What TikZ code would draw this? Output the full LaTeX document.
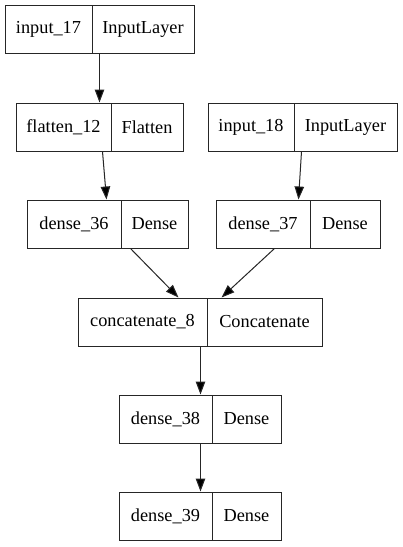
\documentclass[tikz,border=0pt]{standalone}
\usepackage{fontspec}
\setmainfont{Liberation Serif}
\usetikzlibrary{arrows.meta,calc}
\tikzset{
  cell/.style={draw=black!85, line width=1pt, inner sep=0pt, minimum height=48pt,
    font=\fontsize{18.3}{20}\selectfont, text=black},
  conn/.style={draw=black!85, line width=1pt,
    -{Triangle[length=13pt,width=9.5pt,fill=black]}}
}
\begin{document}
\begin{tikzpicture}[x=1pt,y=-1pt]
\useasboundingbox[fill=white] (0,0) rectangle (403,547);
% input_17
\node[cell, minimum width=87pt] (a1) at (48.5,29) {input\_17};
\node[cell, minimum width=102pt] (a2) at (143,29) {InputLayer};
% flatten_12
\node[cell, minimum width=95pt] (f1) at (63.5,127) {flatten\_12};
\node[cell, minimum width=72pt] (f2) at (147,127) {Flatten};
% input_18
\node[cell, minimum width=86pt] (i1) at (251,127) {input\_18};
\node[cell, minimum width=103pt] (i2) at (345.5,127) {InputLayer};
% dense_36
\node[cell, minimum width=94pt] (d1) at (74,224) {dense\_36};
\node[cell, minimum width=67pt] (d2) at (154.5,224) {Dense};
% dense_37
\node[cell, minimum width=94pt] (e1) at (263,224) {dense\_37};
\node[cell, minimum width=70pt] (e2) at (345,224) {Dense};
% concatenate_8
\node[cell, minimum width=129pt] (c1) at (142.5,322) {concatenate\_8};
\node[cell, minimum width=115pt] (c2) at (264.5,322) {Concatenate};
% dense_38
\node[cell, minimum width=93pt] (g1) at (165.5,419) {dense\_38};
\node[cell, minimum width=69pt] (g2) at (246.5,419) {Dense};
% dense_39
\node[cell, minimum width=93pt] (h1) at (165.5,516) {dense\_39};
\node[cell, minimum width=69pt] (h2) at (246.5,516) {Dense};
% connectors
\draw[conn] ([xshift=7pt]a1.south east) -- ([xshift=-12pt]f1.north east);
\draw[conn] ([xshift=-9pt]f1.south east) -- ([xshift=-15pt]d1.north east);
\draw[conn] ([xshift=7pt]i1.south east) -- ([xshift=-12pt]e1.north east);
\draw[conn] ([xshift=9pt]d1.south east) -- ([xshift=-29pt]c1.north east);
\draw[conn] ([xshift=-36pt]e1.south east) -- ([xshift=15pt]c2.north west);
\draw[conn] ([xshift=-7pt]c1.south east) -- ([xshift=-12pt]g1.north east);
\draw[conn] ([xshift=-12pt]g1.south east) -- ([xshift=-12pt]h1.north east);
\end{tikzpicture}
\end{document}
